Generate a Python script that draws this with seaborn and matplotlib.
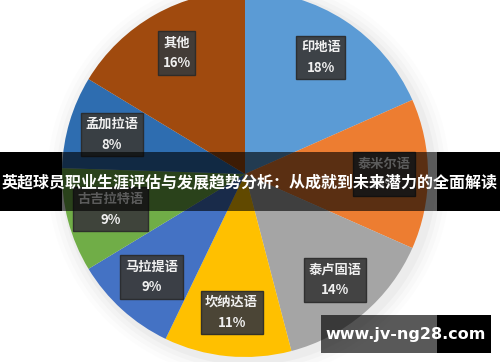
import matplotlib
matplotlib.use("Agg")
import matplotlib.pyplot as plt
from matplotlib.patches import Rectangle, Circle
import seaborn as sns

languages = ["印地语", "泰米尔语", "泰卢固语", "坎纳达语", "马拉提语", "古吉拉特语", "孟加拉语", "其他"]
shares = [18, 13, 14, 11, 9, 9, 8, 16]
colors_hex = ["#5B9BD5", "#ED7D31", "#A5A5A5", "#FFC000", "#4472C4", "#70AD47", "#2E6DB0", "#A04A0E"]
title_text = "英超球员职业生涯评估与发展趋势分析：从成就到未来潜力的全面解读"
watermark = "www.jv-ng28.com"

sns.set_theme(style="white")
plt.rcParams["font.family"] = ["Noto Sans CJK SC", "DejaVu Sans"]

W, H = 500, 362
fig = plt.figure(figsize=(W / 100, H / 100), dpi=100)
fig.patch.set_facecolor("white")
ax = fig.add_axes([0, 0, 1, 1])

palette = sns.color_palette(colors_hex)
cx, cy, r = 245, 174, 183

# soft shadow around pie
for i, a in enumerate([0.05, 0.04, 0.03, 0.02]):
    ax.add_patch(Circle((0.02, -0.02), 1.0 + 0.025 * (i + 1), color="#808080", alpha=a, lw=0, zorder=0))

labels = [f"{n}\n{v}%" for n, v in zip(languages, shares)]
wedges, texts = ax.pie(shares, colors=palette, startangle=90, counterclock=False,
                       labels=labels, labeldistance=0.76,
                       wedgeprops=dict(linewidth=0))
for t in texts:
    t.set_ha("center")
    t.set_va("center")
    t.set_color("#f0f0f0")
    t.set_fontsize(9.5)
    t.set_fontweight("bold")
    t.set_linespacing(1.6)
    t.set_bbox(dict(boxstyle="square,pad=0.35", facecolor="#3b3b3b", edgecolor="#2a2a2a", alpha=0.92))

ax.set_xlim(-cx / r, (W - cx) / r)
ax.set_ylim(-(H - cy) / r, cy / r)
ax.set_aspect("auto")
ax.axis("off")

def frect(x0, y0, w, h, **kw):
    fig.add_artist(Rectangle((x0 / W, 1 - (y0 + h) / H), w / W, h / H,
                             transform=fig.transFigure, lw=0, **kw))

# banner
pic_l, pic_r = 62, 437
frect(pic_l, 152, pic_r - pic_l, 59, facecolor="black", alpha=0.62)
frect(0, 152, pic_l, 59, facecolor="black")
frect(pic_r, 152, W - pic_r, 59, facecolor="black")
fig.text(0.5, 1 - 182 / H, title_text, ha="center", va="center", color="white",
         fontsize=11.5, fontweight="bold", family=["Noto Sans CJK SC", "DejaVu Sans"])

# watermark
frect(321, 315, pic_r - 321, 38, facecolor="black", alpha=0.65)
frect(pic_r, 315, 491 - pic_r, 38, facecolor="black")
fig.text(406 / W, 1 - 334 / H, watermark, ha="center", va="center", color="white",
         fontsize=11.5, fontweight="bold", family=["DejaVu Sans"])

fig.savefig("out.png", dpi=100)
